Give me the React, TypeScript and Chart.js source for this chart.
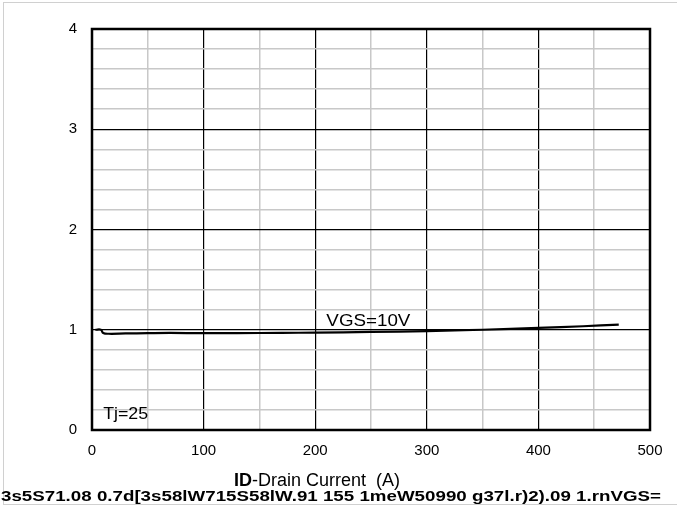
import React, { useEffect, useRef } from "react";
import { Chart, registerables } from "chart.js";

Chart.register(...registerables);

const currentA = [3, 8, 10, 15, 30, 50, 70, 100, 130, 170, 200, 250, 300, 350, 400, 440, 472];
const rdsNorm = [1.0, 1.0, 0.968, 0.96, 0.963, 0.966, 0.968, 0.966, 0.967, 0.969, 0.972, 0.978, 0.987, 1.0, 1.018, 1.035, 1.052];
const xTickLabels = ["0", "100", "200", "300", "400", "500"];
const yTickLabels = ["0", "1", "2", "3", "4"];
const curveLabel = "VGS=10V";
const tempLabel = "Tj=25";
const xTitleBold = "ID";
const xTitleRest = "-Drain Current  (A)";
const footerText = "3s5S71.08 0.7d[3s58lW715S58lW.91 155 1meW50990 g37l.r)2).09 1.rnVGS=";

const FONT = "Arial, 'Liberation Sans', sans-serif";

function stretchText(ctx: any, text: string, x: number, y: number, font: string, targetW: number) {
  ctx.font = font;
  const w = ctx.measureText(text).width;
  const k = targetW / w;
  ctx.save();
  ctx.translate(x, y);
  ctx.scale(k, 1);
  ctx.fillText(text, 0, 0);
  ctx.restore();
}

export default function App() {
  const ref = useRef<HTMLCanvasElement | null>(null);
  useEffect(() => {
    document.body.style.margin = "0";
    const canvas = ref.current!;
    const overlay = {
      id: "overlay",
      afterDraw(chart: any) {
        const ctx = chart.ctx;
        const a = chart.chartArea;
        const xs = chart.scales.x;
        const ys = chart.scales.y;
        ctx.save();
        // outer light border
        ctx.strokeStyle = "#d0d0d0";
        ctx.lineWidth = 1;
        ctx.strokeRect(3.5, 2.5, 700, 502);
        // plot border
        ctx.strokeStyle = "#000";
        ctx.lineWidth = 2.5;
        ctx.strokeRect(a.left, a.top, a.right - a.left, a.bottom - a.top);
        // annotations
        ctx.fillStyle = "#000";
        ctx.textBaseline = "alphabetic";
        ctx.textAlign = "left";
        stretchText(ctx, curveLabel, xs.getPixelForValue(210), ys.getPixelForValue(1.04), "17px " + FONT, 84);
        stretchText(ctx, tempLabel, xs.getPixelForValue(10), ys.getPixelForValue(0.11), "17px " + FONT, 45);
        // x title
        ctx.font = "bold 18px " + FONT;
        const wb = ctx.measureText(xTitleBold).width;
        const sx = 234;
        ctx.fillText(xTitleBold, sx, 486);
        ctx.font = "18px " + FONT;
        ctx.fillText(xTitleRest, sx + wb, 486);
        // footer
        stretchText(ctx, footerText, 1, 501, "bold 15px " + FONT, 660);
        ctx.restore();
      },
    };
    const chart = new Chart(canvas, {
      type: "line",
      data: {
        datasets: [
          {
            data: currentA.map((x, i) => ({ x, y: rdsNorm[i] })),
            borderColor: "#000",
            borderWidth: 2.2,
            pointRadius: 0,
            tension: 0.4,
            fill: false,
          },
        ],
      },
      options: {
        responsive: false,
        animation: false,
        devicePixelRatio: 1,
        layout: { padding: { top: 29, right: 27, left: 0, bottom: 0 } },
        plugins: { legend: { display: false }, tooltip: { enabled: false }, title: { display: false } },
        scales: {
          x: {
            type: "linear",
            min: 0,
            max: 500,
            afterFit: (s: any) => { s.height = 78; },
            afterBuildTicks: (s: any) => {
              const t = [];
              for (let v = 0; v <= 500; v += 50) t.push({ value: v });
              s.ticks = t;
            },
            border: { display: false },
            grid: {
              drawTicks: false,
              color: (c: any) => (c.tick && c.tick.value % 100 === 0 ? "#000" : "#c8c8c8"),
              lineWidth: (c: any) => (c.tick && c.tick.value % 100 === 0 ? 1.2 : 1.5),
            },
            ticks: {
              padding: 12,
              autoSkip: false,
              maxRotation: 0,
              color: "#000",
              font: { family: FONT, size: 15 },
              callback: (v: any) => (v % 100 === 0 ? xTickLabels[v / 100] : ""),
            },
          },
          y: {
            type: "linear",
            min: 0,
            max: 4,
            afterFit: (s: any) => { s.width = 92; },
            afterBuildTicks: (s: any) => {
              const t = [];
              for (let i = 0; i <= 20; i++) t.push({ value: i / 5 });
              s.ticks = t;
            },
            border: { display: false },
            grid: {
              drawTicks: false,
              color: (c: any) => (c.tick && Math.abs(c.tick.value - Math.round(c.tick.value)) < 1e-6 ? "#000" : "#c8c8c8"),
              lineWidth: (c: any) => (c.tick && Math.abs(c.tick.value - Math.round(c.tick.value)) < 1e-6 ? 1.2 : 1.5),
            },
            ticks: {
              padding: 15,
              autoSkip: false,
              color: "#000",
              font: { family: FONT, size: 15 },
              callback: (v: any) => {
                const r = Math.round(v);
                return Math.abs(v - r) < 1e-6 ? yTickLabels[r] : "";
              },
            },
          },
        },
      },
      plugins: [overlay],
    } as any);
    return () => chart.destroy();
  }, []);
  return (
    <div style={{ position: "absolute", left: 0, top: 0, width: 677, height: 508, background: "#fff" }}>
      <canvas ref={ref} width={677} height={508} style={{ width: 677, height: 508, display: "block" }} />
    </div>
  );
}
